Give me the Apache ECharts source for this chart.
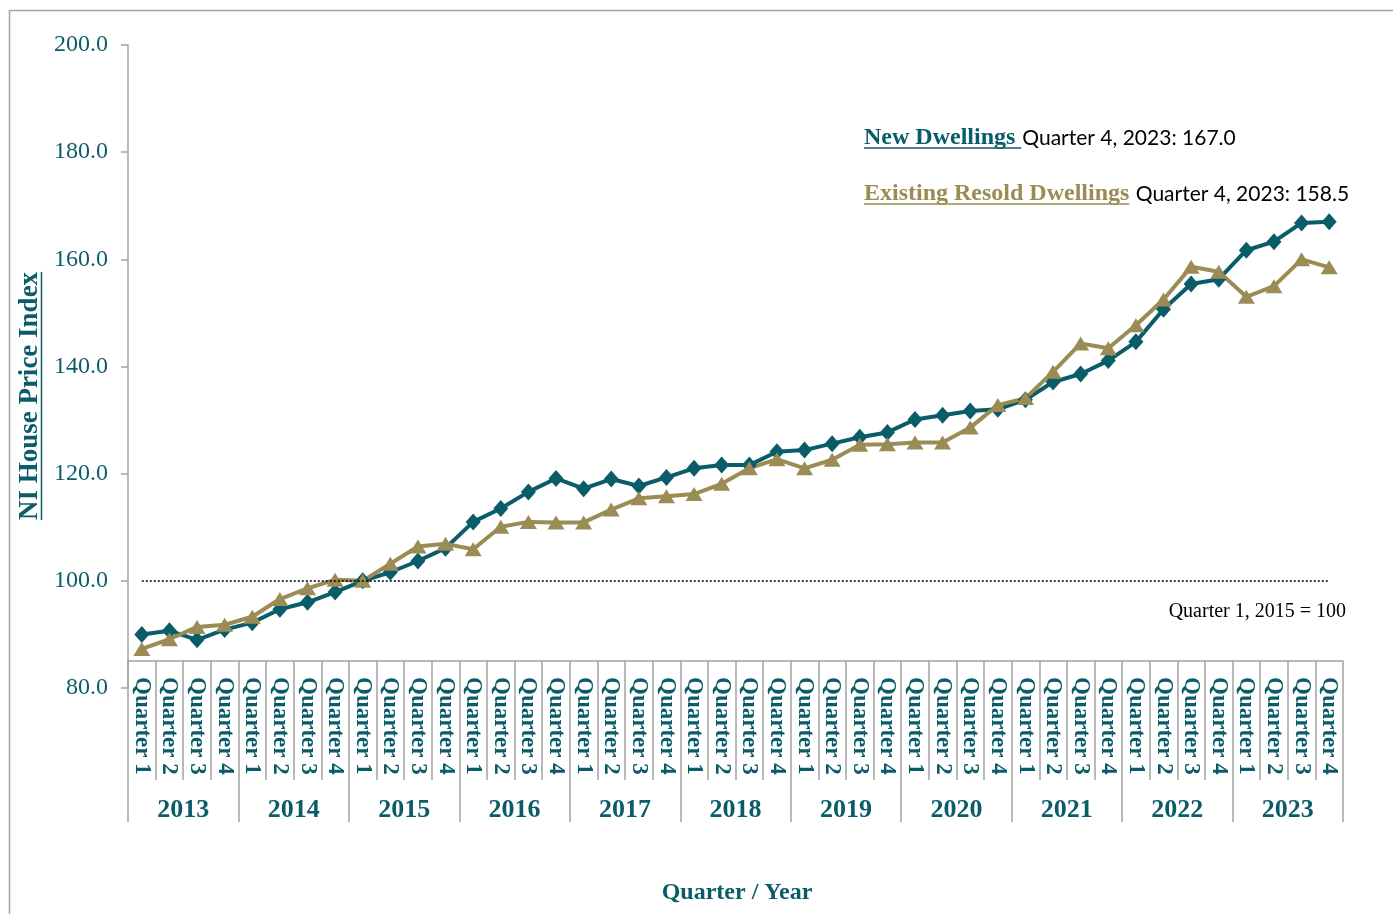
<!DOCTYPE html>
<html>
<head>
<meta charset="utf-8">
<script src="https://cdn.jsdelivr.net/npm/echarts@6/dist/echarts.min.js"></script>
<style>
  html, body { margin: 0; padding: 0; background: #fff; }
  #chart { width: 1393px; height: 914px; }
</style>
</head>
<body>
<div id="chart"></div>
<script>
// data
const years = ["2013", "2014", "2015", "2016", "2017", "2018", "2019", "2020", "2021", "2022", "2023"];
const quarters = ["Quarter 1", "Quarter 2", "Quarter 3", "Quarter 4"];
const yTicks = [80, 100, 120, 140, 160, 180, 200];

const newDwellings = [
    90.0, 90.7, 89.0, 90.9,
    92.2, 94.7, 96.0, 97.9,
    100.0, 101.6, 103.7, 106.1,
    111.0, 113.5, 116.6, 119.1,
    117.2, 119.0, 117.7, 119.3,
    121.0, 121.6, 121.6, 124.1,
    124.4, 125.6, 126.8, 127.7,
    130.1, 130.9, 131.7, 132.0,
    133.8, 137.1, 138.6, 141.1,
    144.6, 150.7, 155.4, 156.3,
    161.7, 163.3, 166.8, 167.0
];
const resold = [
    87.3, 89.1, 91.4, 91.8,
    93.3, 96.6, 98.6, 100.2,
    100.0, 103.2, 106.4, 106.9,
    105.9, 110.1, 111.0, 110.9,
    110.9, 113.3, 115.4, 115.8,
    116.2, 118.1, 121.0, 122.7,
    121.0, 122.6, 125.4, 125.5,
    125.8, 125.8, 128.6, 132.8,
    134.1, 139.0, 144.3, 143.4,
    147.7, 152.5, 158.6, 157.7,
    153.0, 155.0, 160.0, 158.5
];

const teal = "#0b5c69";
const olive = "#9a8c54";
const grey = "#a3a3a3";
const serif = "'Liberation Serif', serif";
const sans = "Lato, 'Noto Sans', sans-serif";

// unique keys for the category axis, shown as "Quarter N"
const categories = [];
years.forEach((y) => quarters.forEach((q) => categories.push(y + "|" + q)));

// measure text so the annotation pieces line up
const ctx = document.createElement("canvas").getContext("2d");
function textWidth(text, font) {
    ctx.font = font;
    return ctx.measureText(text).width;
}

const chart = echarts.init(document.getElementById("chart"));

// annotation block (coloured underlined name + black value)
const noteX = 864;
const labelFont = "bold 24px " + serif;
const valueFont = "21px " + sans;
const notes = [
    { name: "New Dwellings ", value: "Quarter 4, 2023: 167.0", color: teal, y: 138 },
    { name: "Existing Resold Dwellings", value: " Quarter 4, 2023: 158.5", color: olive, y: 194 }
];
const graphics = [];
notes.forEach((n) => {
    const w = textWidth(n.name, labelFont);
    graphics.push({
        type: "text", x: noteX, y: n.y,
        style: { text: n.name, font: labelFont, fill: n.color, verticalAlign: "middle", align: "left" }
    });
    graphics.push({
        type: "line",
        shape: { x1: noteX, y1: n.y + 10, x2: noteX + w, y2: n.y + 10 },
        style: { stroke: n.color, lineWidth: 1.5 }
    });
    graphics.push({
        type: "text", x: noteX + w + 1, y: n.y,
        style: { text: n.value, font: valueFont, fill: "#000", verticalAlign: "middle", align: "left" }
    });
});

// y axis title, rotated, underlined
const yNameFont = "bold 27px " + serif;
const yName = "NI House Price Index";
const yNameW = textWidth(yName, yNameFont);
graphics.push({
    type: "text", x: 30, y: 396, rotation: Math.PI / 2,
    style: { text: yName, font: yNameFont, fill: teal, align: "center", verticalAlign: "middle" }
});
graphics.push({
    type: "line",
    shape: { x1: 41.5, y1: 396 - yNameW / 2, x2: 41.5, y2: 396 + yNameW / 2 },
    style: { stroke: teal, lineWidth: 1.5 }
});

// x axis title
graphics.push({
    type: "text", x: 737, y: 893,
    style: { text: "Quarter / Year", font: "bold 24px " + serif, fill: teal, align: "center", verticalAlign: "middle" }
});

// base note
graphics.push({
    type: "text", x: 1346, y: 612,
    style: { text: "Quarter 1, 2015 = 100", font: "20px " + serif, fill: "#000", align: "right", verticalAlign: "middle" }
});

// outer border
graphics.push({
    type: "rect", z: -10,
    shape: { x: 9.5, y: 10.5, width: 1420, height: 1000 },
    style: { fill: "none", stroke: grey, lineWidth: 1.5 }
});

const option = {
    backgroundColor: "#fff",
    animation: false,
    grid: { left: 128, right: 50, top: 45, bottom: 226 },
    xAxis: [
        {
            type: "category",
            position: "bottom",
            offset: -27,
            data: categories,
            boundaryGap: true,
            axisLine: { show: true, lineStyle: { color: grey, width: 1.5 } },
            axisTick: { show: true, interval: 0, length: 119, lineStyle: { color: grey, width: 1.5 } },
            axisLabel: {
                interval: 0,
                rotate: -90,
                margin: 16,
                color: teal,
                fontFamily: serif,
                fontWeight: "bold",
                fontSize: 23,
                formatter: (v) => v.split("|")[1]
            }
        },
        {
            type: "category",
            position: "bottom",
            offset: -27,
            data: years,
            boundaryGap: true,
            axisLine: { show: false },
            axisTick: { show: true, interval: 0, length: 161, lineStyle: { color: grey, width: 1.5 } },
            axisLabel: {
                interval: 0,
                margin: 136,
                color: teal,
                fontFamily: serif,
                fontWeight: "bold",
                fontSize: 26
            }
        }
    ],
    yAxis: {
        type: "value",
        min: yTicks[0],
        max: yTicks[yTicks.length - 1],
        interval: yTicks[1] - yTicks[0],
        splitLine: { show: false },
        axisLine: { show: true, lineStyle: { color: grey, width: 1.5 } },
        axisTick: { show: true, length: 7, lineStyle: { color: grey, width: 1.5 } },
        axisLabel: {
            margin: 20,
            color: teal,
            fontFamily: serif,
            fontSize: 24,
            formatter: (v) => v.toFixed(1)
        }
    },
    series: [
        {
            name: "New Dwellings",
            type: "line",
            data: newDwellings,
            color: teal,
            lineStyle: { width: 4, color: teal },
            symbol: "diamond",
            symbolSize: [15, 17],
            itemStyle: { color: teal },
            markLine: {
                silent: true,
                symbol: "none",
                label: { show: false },
                lineStyle: { color: "#000", type: [2, 2], width: 1.5 },
                data: [[
                    { coord: [categories[0], 100] },
                    { coord: [categories[categories.length - 1], 100] }
                ]]
            }
        },
        {
            name: "Existing Resold Dwellings",
            type: "line",
            data: resold,
            color: olive,
            lineStyle: { width: 4, color: olive },
            symbol: "triangle",
            symbolSize: [17, 14],
            itemStyle: { color: olive }
        }
    ],
    graphic: graphics
};

chart.setOption(option);
</script>
</body>
</html>
